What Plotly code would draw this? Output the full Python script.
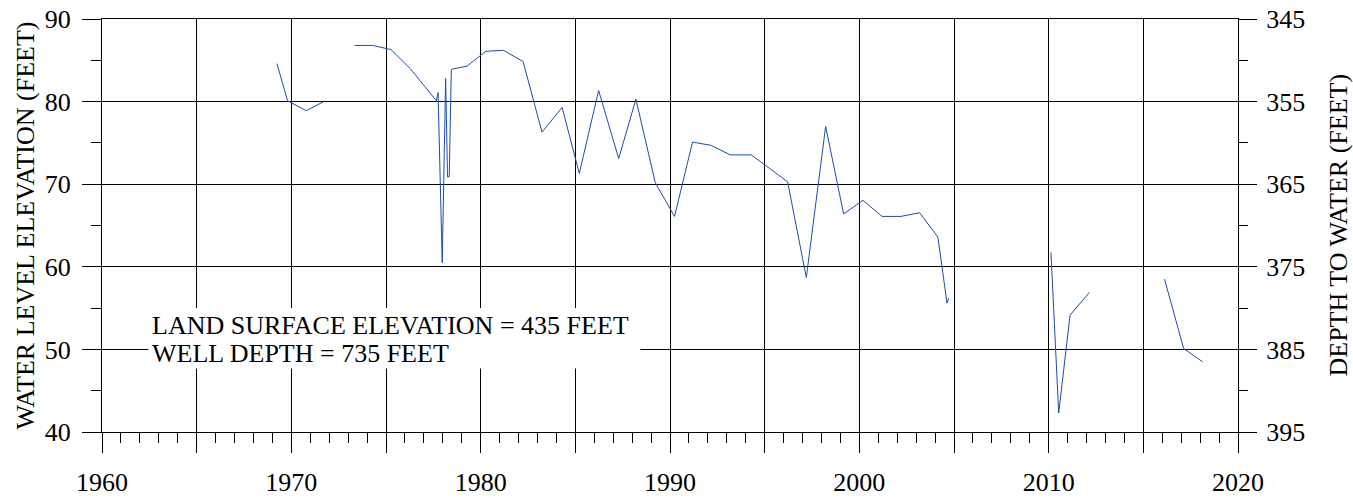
import plotly.graph_objects as go

# Water level elevation (feet) readings by decimal year; None = gap in record
years = [1969.24, 1969.80, 1970.79, 1971.71, None,
         1973.34, 1974.29, 1975.26, 1976.28, 1977.66, 1977.75, 1977.97, 1978.15,
         1978.25, 1978.34, 1978.45, 1979.28, 1980.28, 1981.21, 1982.24, 1983.24,
         1984.30, 1985.21, 1986.23, 1987.29, 1988.20, 1989.22, 1990.24, 1991.19,
         1992.18, 1993.18, 1994.29, 1996.21, 1997.20, 1998.22, 1999.17, 2000.19,
         2001.20, 2002.20, 2003.18, 2004.15, 2004.63, 2004.72, None,
         2010.12, 2010.53, 2011.13, 2012.15, None,
         2016.12, 2017.13, 2018.13]
elevation = [84.6, 80.1, 78.9, 80.0, None,
             86.8, 86.8, 86.3, 84.0, 80.1, 81.1, 60.5, 82.8,
             70.9, 70.9, 83.9, 84.3, 86.1, 86.2, 84.85, 76.3,
             79.3, 71.3, 81.35, 73.1, 80.3, 70.2, 66.1, 75.1,
             74.7, 73.55, 73.55, 70.3, 58.7, 77.0, 66.4, 68.05,
             66.1, 66.1, 66.55, 63.6, 55.6, 56.2, None,
             61.75, 42.3, 54.15, 56.9, None,
             58.5, 50.1, 48.5]

land_surface = 435
depth = [None if v is None else land_surface - v for v in elevation]

x_tickvals = [1960, 1965, 1970, 1975, 1980, 1985, 1990, 1995, 2000, 2005, 2010, 2015, 2020]
x_ticktext = ["1960", "", "1970", "", "1980", "", "1990", "", "2000", "", "2010", "", "2020"]
y_tickvals = [40, 50, 60, 70, 80, 90]
y2_tickvals = [345, 355, 365, 375, 385, 395]

note_lines = ["LAND SURFACE ELEVATION = 435 FEET", "WELL DEPTH = 735 FEET"]

FONT = "Liberation Serif, Times New Roman, serif"

fig = go.Figure()
fig.add_trace(go.Scatter(x=years, y=elevation, mode="lines",
                         line=dict(color="#1d4ca8", width=1),
                         connectgaps=False, showlegend=False))
fig.add_trace(go.Scatter(x=years, y=depth, mode="lines", yaxis="y2",
                         line=dict(color="rgba(0,0,0,0)", width=1),
                         connectgaps=False, showlegend=False, hoverinfo="skip"))

fig.update_layout(
    width=1353, height=498,
    margin=dict(l=102, r=115, t=19, b=66, autoexpand=False),
    paper_bgcolor="white", plot_bgcolor="white",
    font=dict(family=FONT, size=26, color="black"),
    xaxis=dict(range=[1960, 2020], tickmode="array", tickvals=x_tickvals, ticktext=x_ticktext,
               ticks="outside", ticklen=20, tickwidth=1, tickcolor="black",
               showgrid=True, gridcolor="black", gridwidth=1,
               showline=True, linecolor="black", linewidth=1, mirror=True,
               zeroline=False, automargin=False, ticklabelstandoff=7,
               ticklabeloverflow="allow",
               minor=dict(dtick=1, tick0=1960, ticks="outside", ticklen=10,
                          tickcolor="black", tickwidth=1, showgrid=False),
               tickfont=dict(size=26)),
    yaxis=dict(range=[40, 90], tickmode="array", tickvals=y_tickvals,
               ticks="outside", ticklen=19, tickwidth=1, tickcolor="black",
               showgrid=True, gridcolor="black", gridwidth=1,
               showline=True, linecolor="black", linewidth=1, mirror=True,
               zeroline=False, automargin=False, ticklabelstandoff=6,
               ticklabeloverflow="allow",
               minor=dict(dtick=10, tick0=45, ticks="outside", ticklen=10,
                          tickcolor="black", tickwidth=1, showgrid=False),
               tickfont=dict(size=26)),
    yaxis2=dict(range=[395, 345], overlaying="y", side="right", tickmode="array",
                tickvals=y2_tickvals,
                ticks="outside", ticklen=18, tickwidth=1, tickcolor="black",
                showgrid=False, showline=True, linecolor="black", linewidth=1,
                zeroline=False, automargin=False, ticklabelstandoff=4,
                ticklabeloverflow="allow",
                minor=dict(dtick=10, tick0=350, ticks="outside", ticklen=9,
                           tickcolor="black", tickwidth=1, showgrid=False),
                tickfont=dict(size=26)),
)

# axis titles
fig.add_annotation(x=0, y=0.5, xref="paper", yref="paper", text="WATER LEVEL ELEVATION (FEET)",
                   textangle=-90, showarrow=False, xanchor="center", yanchor="middle",
                   xshift=-77, font=dict(size=26, family=FONT))
fig.add_annotation(x=1, y=0.5, xref="paper", yref="paper", text="DEPTH TO WATER (FEET)",
                   textangle=-90, showarrow=False, xanchor="center", yanchor="middle",
                   xshift=100, font=dict(size=26, family=FONT))

# white box behind the note
fig.add_shape(type="rect", xref="x", yref="y", x0=1962.45, x1=1988.43, y0=47.7, y1=55.0,
              fillcolor="white", line=dict(width=0), layer="above")
fig.add_annotation(x=1962.55, y=52.9, xref="x", yref="y", text=note_lines[0],
                   showarrow=False, xanchor="left", yanchor="middle",
                   font=dict(size=26, family=FONT))
fig.add_annotation(x=1962.55, y=49.5, xref="x", yref="y", text=note_lines[1],
                   showarrow=False, xanchor="left", yanchor="middle",
                   font=dict(size=26, family=FONT))

fig.write_html("out.html", config={"displayModeBar": False},
               post_script="document.body.style.margin='0';document.body.style.overflow='hidden';"
                           "document.documentElement.style.overflow='hidden';")
